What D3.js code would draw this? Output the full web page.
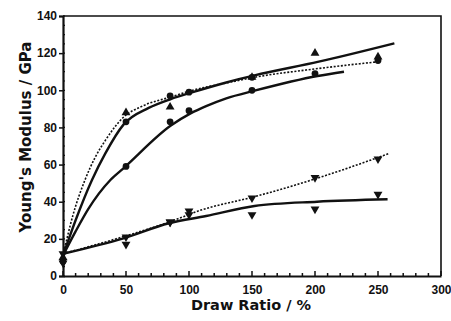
<!DOCTYPE html>
<html><head><meta charset="utf-8">
<script src="https://cdn.jsdelivr.net/npm/d3@7/dist/d3.min.js"></script>
<style>body{margin:0;background:#fff}svg{display:block}</style>
</head><body><svg id="c" width="451" height="321"></svg>
<script>
// tick labels
const xTicks = [0, 50, 100, 150, 200, 250, 300];
const yTicks = [0, 20, 40, 60, 80, 100, 120, 140];
// measured points
const triUpX = [0, 50, 85, 150, 200, 250];
const triUpY = [10, 88, 91, 107, 120, 118];
const circBX = [50, 85, 100, 150, 250];
const circBY = [83, 97, 99, 107, 116];
const circCX = [0, 50, 85, 100, 150, 200];
const circCY = [8, 59, 83, 89, 100, 109];
const triDnDX = [0, 50, 85, 100, 150, 200, 250];
const triDnDY = [12, 21, 29, 35, 42, 53, 63];
const triDnEX = [0, 50, 85, 100, 150, 200, 250];
const triDnEY = [7, 17, 29, 33, 33, 36, 44];
// fitted curves
const fitAX = [0, 8, 17.6, 25.6, 33.6, 48, 63, 85.6, 100, 130, 152, 200, 252];
const fitAY = [11, 33, 52, 64, 73, 85.5, 91.5, 96.4, 99.5, 104, 107, 111.5, 115.5];
const fitBX = [0, 10, 23, 33.6, 48, 68, 85.6, 101.6, 129.6, 152, 203, 263];
const fitBY = [11, 30, 51.7, 66, 81.5, 90.5, 95.3, 98.7, 104.2, 108, 115.4, 125.3];
const fitCX = [0, 10, 20, 37.6, 48, 85.6, 101.6, 113.6, 129.6, 152, 202, 223];
const fitCY = [11, 24, 36, 51.7, 58, 81, 87.7, 91.5, 95.7, 99.8, 107.7, 110];
const fitDX = [0, 48, 84, 109.6, 152, 201.6, 259];
const fitDY = [12, 21.2, 29, 35.5, 42.7, 52.6, 66];
const fitEX = [0, 48, 84, 113.6, 152, 201.6, 257.6];
const fitEY = [12, 20.3, 28.4, 32.3, 37.7, 40, 41.3];

const svg = d3.select("#c");
const x = d3.scaleLinear().domain([0, 300]).range([63, 441]);
const y = d3.scaleLinear().domain([0, 140]).range([276, 16]);
const ink = "#111";
const font = "'Liberation Sans', Arial, sans-serif";
const tfont = "'DejaVu Sans', sans-serif";

// frame
svg.append("path").attr("d", `M${x(0)},${y(140)}H${x(300)}V${y(0)}`)
  .attr("fill", "none").attr("stroke", ink).attr("stroke-width", 1.6);

// x axis
const xa = svg.append("g").attr("transform", `translate(0,${y(0)})`)
  .call(d3.axisBottom(x).tickValues(xTicks).tickSize(0).tickPadding(9).tickFormat(d3.format("d")));
xa.select(".domain").attr("stroke", ink).attr("stroke-width", 2.2);
xa.selectAll("text").attr("font-family", font).attr("font-weight", "bold").attr("font-size", 12).attr("fill", ink);
svg.append("g").selectAll("line").data(d3.range(0, 301, 10)).join("line")
  .attr("x1", d => x(d)).attr("x2", d => x(d))
  .attr("y1", y(0)).attr("y2", d => y(0) - (d % 50 === 0 ? 5 : 3))
  .attr("stroke", ink).attr("stroke-width", 1.5);

// y axis
const ya = svg.append("g").attr("transform", `translate(${x(0)},0)`)
  .call(d3.axisLeft(y).tickValues(yTicks).tickSize(4).tickPadding(2).tickFormat(d3.format("d")));
ya.select(".domain").attr("stroke", ink).attr("stroke-width", 2.2);
ya.selectAll(".tick line").attr("stroke", ink).attr("stroke-width", 1.5);
ya.selectAll("text").attr("font-family", font).attr("font-weight", "bold").attr("font-size", 12).attr("fill", ink);
svg.append("g").selectAll("line").data(d3.range(0, 141, 5)).join("line")
  .attr("x1", x(0)).attr("x2", x(0) + 2)
  .attr("y1", d => y(d)).attr("y2", d => y(d))
  .attr("stroke", ink).attr("stroke-width", 1.2);

// titles
svg.append("text").attr("x", 251).attr("y", 310).attr("text-anchor", "middle")
  .attr("font-family", tfont).attr("font-weight", "bold").attr("font-size", 14.5).attr("fill", ink)
  .text("Draw Ratio / %");
svg.append("text").attr("transform", `translate(31,137) rotate(-90)`).attr("text-anchor", "middle")
  .attr("font-family", tfont).attr("font-weight", "bold").attr("font-size", 15).attr("fill", ink)
  .text("Young's Modulus / GPa");

// curves
const line = d3.line().x(d => x(d[0])).y(d => y(d[1])).curve(d3.curveMonotoneX);
const zip = (a, b) => a.map((v, i) => [v, b[i]]);
const curves = [
  [fitAX, fitAY, true], [fitBX, fitBY, false], [fitCX, fitCY, false],
  [fitDX, fitDY, true], [fitEX, fitEY, false]
];
curves.forEach(([cx, cy, dotted]) => {
  svg.append("path").attr("d", line(zip(cx, cy))).attr("fill", "none")
    .attr("stroke", ink)
    .attr("stroke-width", dotted ? 1.6 : 2.4)
    .attr("stroke-dasharray", dotted ? "2,1.6" : null);
});

// markers
const sym = (type, size) => d3.symbol().type(type).size(size)();
function markers(xs, ys, type, size, rot) {
  svg.append("g").selectAll("path").data(zip(xs, ys)).join("path")
    .attr("d", sym(type, size))
    .attr("transform", d => `translate(${x(d[0])},${y(d[1])}) rotate(${rot})`)
    .attr("fill", ink);
}
markers(triUpX, triUpY, d3.symbolTriangle, 34, 0);
markers(circBX, circBY, d3.symbolCircle, 36, 0);
markers(circCX, circCY, d3.symbolCircle, 36, 0);
markers(triDnDX, triDnDY, d3.symbolTriangle, 34, 180);
markers(triDnEX, triDnEY, d3.symbolTriangle, 34, 180);
</script></body></html>
